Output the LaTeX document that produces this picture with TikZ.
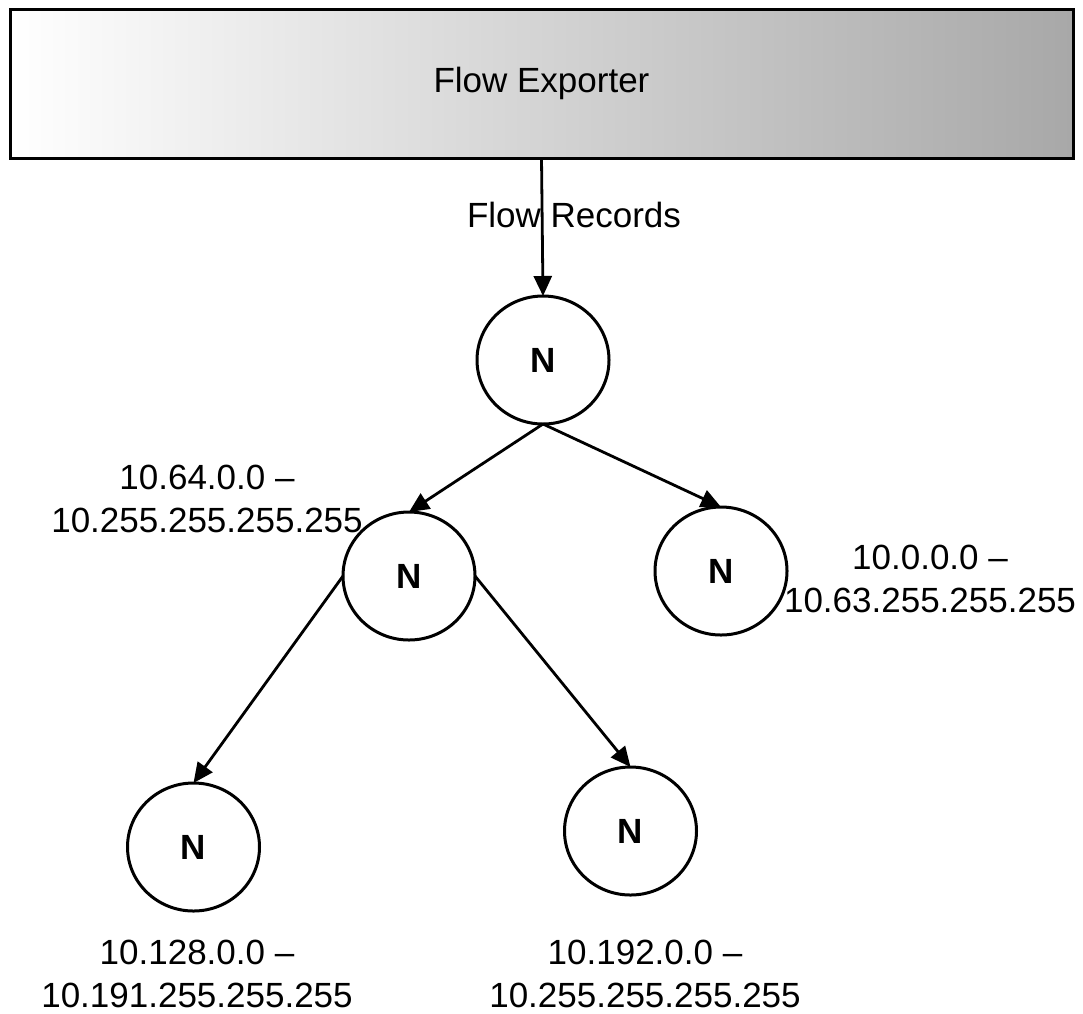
\documentclass[tikz,border=0pt]{standalone}
\usepackage{fontspec}
\setmainfont{Liberation Sans}
\usetikzlibrary{arrows.meta,shapes.geometric}
\definecolor{boxend}{RGB}{168,168,168}
\begin{document}
\begin{tikzpicture}[x=1pt,y=-1pt,
  every node/.style={inner sep=0pt,outer sep=0pt},
  lbl/.style={align=center,font=\fontsize{35}{43}\selectfont},
  treenode/.style={ellipse,draw=black,line width=3pt,fill=white,
    minimum width=132pt,minimum height=128pt,
    font=\fontsize{35}{40}\selectfont\bfseries},
  link/.style={draw=black,line width=2.8pt,-{Triangle[length=20pt,width=18pt]}},
  exporter/.style={rectangle,draw=black,line width=3pt,
    left color=white,right color=boxend,
    minimum width=1063pt,minimum height=149pt,
    font=\fontsize{35}{40}\selectfont}]
\useasboundingbox (0,0) rectangle (1083,1013);

% exporter box
\node[exporter] (exp) at (541.5,83.5) {Flow Exporter};

% tree of address ranges
\node[treenode] (root) at (543,360) {N};
\node[treenode] (upper) at (409,576) {N};
\node[treenode] (lower) at (721,571) {N};
\node[treenode] (q3) at (193.5,847) {N};
\node[treenode] (q4) at (630.5,831) {N};

% connectors
\draw[link] (exp.south) -- (root.north);
\draw[link] (root.south) -- (upper.north);
\draw[link] (root.south) -- (lower.north);
\draw[link] (upper.west) -- (q3.north);
\draw[link] (upper.east) -- (q4.north);

% labels
\node[lbl] (rec) at (574,215) {Flow Records};
\node[lbl] (rupper) at (207,498.5) {10.64.0.0 –\\10.255.255.255.255};
\node[lbl] (rlower) at (930,578.5) {10.0.0.0 –\\10.63.255.255.255};
\node[lbl] (rq3) at (197,974) {10.128.0.0 –\\10.191.255.255.255};
\node[lbl] (rq4) at (645,974) {10.192.0.0 –\\10.255.255.255.255};
\end{tikzpicture}
\end{document}
